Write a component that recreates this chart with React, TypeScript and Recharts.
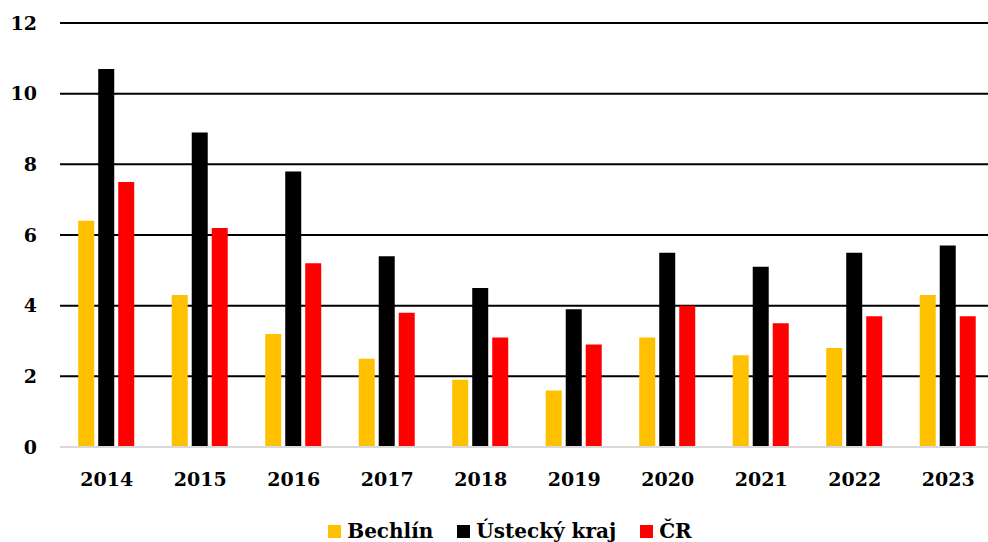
import * as React from 'react';
import { BarChart, Bar, XAxis, YAxis, CartesianGrid, Legend } from 'recharts';

const years = ['2014', '2015', '2016', '2017', '2018', '2019', '2020', '2021', '2022', '2023'];
const bechlin = [6.4, 4.3, 3.2, 2.5, 1.9, 1.6, 3.1, 2.6, 2.8, 4.3];
const ustecky = [10.7, 8.9, 7.8, 5.4, 4.5, 3.9, 5.5, 5.1, 5.5, 5.7];
const cr = [7.5, 6.2, 5.2, 3.8, 3.1, 2.9, 4.0, 3.5, 3.7, 3.7];
const yTicks = [0, 2, 4, 6, 8, 10, 12];
const seriesNames = ['Bechlín', 'Ústecký kraj', 'ČR'];
const seriesColors = ['#FFC000', '#000000', '#FF0000'];

const data = years.map((y, i) => ({
  name: y,
  Bechlin: bechlin[i],
  Ustecky: ustecky[i],
  CR: cr[i],
}));

const font = '"DejaVu Serif", serif';

// legend is centred on the visible 988px, not on the (wider) chart
function ChartLegend() {
  return (
    <div style={{ display: 'flex', justifyContent: 'center', paddingTop: 24, width: 988, paddingLeft: 16 }}>
      {seriesNames.map((n, i) => (
        <div key={n} style={{ display: 'flex', alignItems: 'center', marginRight: i < 2 ? 24 : 0 }}>
          <span style={{ display: 'inline-block', width: 13, height: 13, background: seriesColors[i], marginRight: 6 }} />
          <span style={{ fontFamily: font, fontWeight: 'bold', fontSize: 20, lineHeight: '20px', color: '#000' }}>{n}</span>
        </div>
      ))}
    </div>
  );
}

export default function App() {
  return (
    <div style={{ position: 'absolute', left: 0, top: 0, width: 988, height: 542, overflow: 'hidden' }}>
      <BarChart
        width={998}
        height={542}
        data={data}
        margin={{ top: 23, right: 3, left: 0, bottom: 0 }}
        barCategoryGap="19.5%"
        barGap={4}
      >
        <CartesianGrid vertical={false} stroke="#000" strokeWidth={2} />
        <XAxis
          dataKey="name"
          height={50}
          tickLine={false}
          tickSize={0}
          tickMargin={26}
          axisLine={{ stroke: '#d9d9d9', strokeWidth: 2 }}
          tick={{ fill: '#000', fontFamily: font, fontWeight: 'bold', fontSize: 19 }}
        />
        <YAxis
          width={60}
          domain={[0, 12]}
          ticks={yTicks}
          axisLine={false}
          tickLine={false}
          tickSize={0}
          tickMargin={23}
          tick={{ fill: '#000', fontFamily: font, fontWeight: 'bold', fontSize: 19 }}
        />
        <Legend verticalAlign="bottom" align="left" height={45} content={<ChartLegend />} />
        <Bar dataKey="Bechlin" name={seriesNames[0]} fill={seriesColors[0]} isAnimationActive={false} />
        <Bar dataKey="Ustecky" name={seriesNames[1]} fill={seriesColors[1]} isAnimationActive={false} />
        <Bar dataKey="CR" name={seriesNames[2]} fill={seriesColors[2]} isAnimationActive={false} />
      </BarChart>
    </div>
  );
}
